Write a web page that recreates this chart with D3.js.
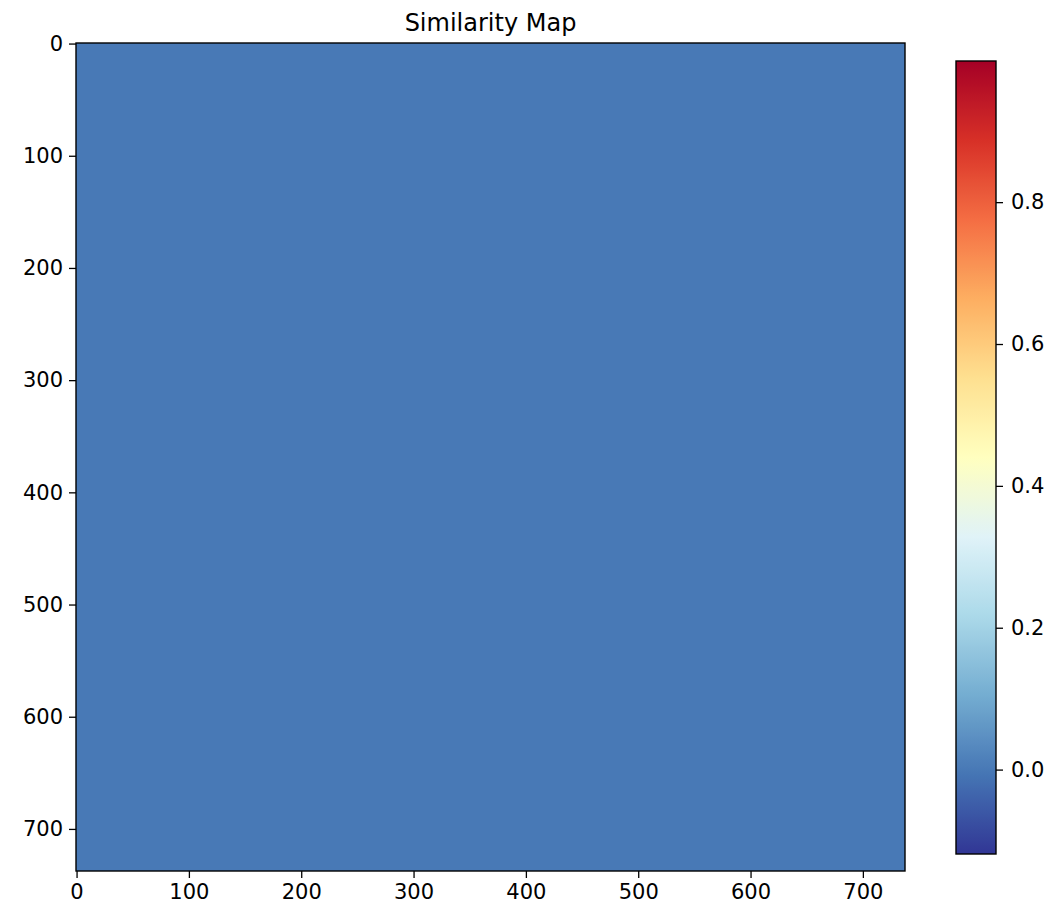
<!DOCTYPE html>
<html>
<head>
<meta charset="utf-8">
<script src="https://cdn.jsdelivr.net/npm/d3@7"></script>
<style>
  html, body { margin: 0; padding: 0; background: #fff; }
  svg { display: block; }
  text { font-family: "DejaVu Sans", sans-serif; fill: #000; }
</style>
</head>
<body>
<svg id="chart" width="1064" height="905"></svg>
<script>
// ---- data ----
const chartTitle = "Similarity Map";
const matrixSize = 738;            // rows = columns
const cellValue = 0.0;             // every cell of the similarity matrix reads as ~0.0
const colorDomain = [-0.119, 0.999];
const xTicks = [0, 100, 200, 300, 400, 500, 600, 700];
const yTicks = [0, 100, 200, 300, 400, 500, 600, 700];
const colorbarTicks = [0.0, 0.2, 0.4, 0.6, 0.8];
const rdylbuColors = ["#a50026","#d73027","#f46d43","#fdae61","#fee090","#ffffbf","#e0f3f8","#abd9e9","#74add1","#4575b4","#313695"];

const matrix = Array.from({length: matrixSize}, () => new Array(matrixSize).fill(cellValue));

// ---- layout ----
const plot = {left: 76, right: 905, top: 43, bottom: 871};
const cbar = {left: 956, right: 996, top: 61, bottom: 854};

const svg = d3.select("#chart");

const x = d3.scaleLinear().domain([-0.5, matrixSize - 0.5]).range([plot.left, plot.right]);
const y = d3.scaleLinear().domain([-0.5, matrixSize - 0.5]).range([plot.top, plot.bottom]);

// RdYlBu_r as linear segments (matplotlib-like)
const cmapColors = rdylbuColors.slice().reverse();
const cmap = d3.scaleLinear()
  .domain(d3.range(cmapColors.length).map(i => i / (cmapColors.length - 1)))
  .range(cmapColors)
  .interpolate(d3.interpolateRgb)
  .clamp(true);
const norm = d3.scaleLinear().domain(colorDomain).range([0, 1]).clamp(true);
const color = v => cmap(norm(v));

// ---- heatmap via canvas image ----
const canvas = document.createElement("canvas");
canvas.width = matrixSize; canvas.height = matrixSize;
const ctx = canvas.getContext("2d");
const img = ctx.createImageData(matrixSize, matrixSize);
for (let r = 0; r < matrixSize; r++) {
  for (let c = 0; c < matrixSize; c++) {
    const col = d3.rgb(color(matrix[r][c]));
    const k = (r * matrixSize + c) * 4;
    img.data[k] = col.r; img.data[k+1] = col.g; img.data[k+2] = col.b; img.data[k+3] = 255;
  }
}
ctx.putImageData(img, 0, 0);

svg.append("image")
  .attr("x", x(-0.5)).attr("y", y(-0.5))
  .attr("width", x(matrixSize - 0.5) - x(-0.5))
  .attr("height", y(matrixSize - 0.5) - y(-0.5))
  .attr("preserveAspectRatio", "none")
  .style("image-rendering", "pixelated")
  .attr("href", canvas.toDataURL());

// frame
svg.append("rect")
  .attr("x", plot.left).attr("y", plot.top)
  .attr("width", plot.right - plot.left).attr("height", plot.bottom - plot.top)
  .attr("fill", "none").attr("stroke", "#000").attr("stroke-width", 1.4);

// axes
const tickFont = 21;
const xAxis = d3.axisBottom(x).tickValues(xTicks).tickSize(7).tickPadding(6).tickFormat(d3.format("d"));
const gx = svg.append("g").attr("transform", `translate(0,${plot.bottom})`).call(xAxis);
const yAxis = d3.axisLeft(y).tickValues(yTicks).tickSize(7).tickPadding(6).tickFormat(d3.format("d"));
const gy = svg.append("g").attr("transform", `translate(${plot.left},0)`).call(yAxis);
[gx, gy].forEach(g => {
  g.select(".domain").remove();
  g.selectAll(".tick line").attr("stroke", "#000").attr("stroke-width", 1.3);
  g.selectAll(".tick text").attr("font-size", tickFont).attr("font-family", "DejaVu Sans").attr("fill", "#000");
});

// title
svg.append("text")
  .attr("x", (plot.left + plot.right) / 2).attr("y", 31)
  .attr("text-anchor", "middle")
  .attr("font-size", 24)
  .text(chartTitle);

// ---- colorbar ----
const cy = d3.scaleLinear().domain(colorDomain).range([cbar.bottom, cbar.top]);
const defs = svg.append("defs");
const grad = defs.append("linearGradient").attr("id", "cbgrad")
  .attr("x1", 0).attr("y1", 1).attr("x2", 0).attr("y2", 0);
d3.range(0, 1.0001, 0.01).forEach(t => {
  const v = colorDomain[0] + t * (colorDomain[1] - colorDomain[0]);
  grad.append("stop").attr("offset", t).attr("stop-color", color(v));
});
svg.append("rect")
  .attr("x", cbar.left).attr("y", cbar.top)
  .attr("width", cbar.right - cbar.left).attr("height", cbar.bottom - cbar.top)
  .attr("fill", "url(#cbgrad)")
  .attr("stroke", "#000").attr("stroke-width", 1.4);

const cAxis = d3.axisRight(cy).tickValues(colorbarTicks).tickSize(7).tickPadding(8).tickFormat(d3.format(".1f"));
const gc = svg.append("g").attr("transform", `translate(${cbar.right},0)`).call(cAxis);
gc.select(".domain").remove();
gc.selectAll(".tick line").attr("stroke", "#000").attr("stroke-width", 1.3);
gc.selectAll(".tick text").attr("font-size", tickFont).attr("font-family", "DejaVu Sans").attr("fill", "#000");
</script>
</body>
</html>
